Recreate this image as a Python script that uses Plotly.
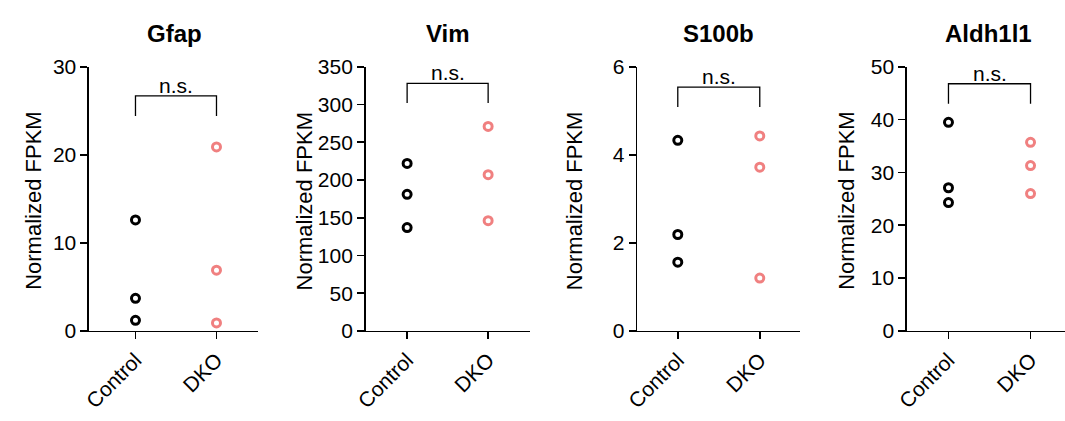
import plotly.graph_objects as go

W, H = 1065, 421

genes = ["Gfap", "Vim", "S100b", "Aldh1l1"]
groups = ["Control", "DKO"]

gfap_control = [12.6, 3.7, 1.2]
gfap_dko = [20.9, 6.9, 0.9]
vim_control = [222, 181, 137]
vim_dko = [271, 207, 146]
s100b_control = [4.33, 2.19, 1.56]
s100b_dko = [4.43, 3.72, 1.2]
aldh_control = [39.5, 27.1, 24.3]
aldh_dko = [35.7, 31.3, 26.0]

control_values = [gfap_control, vim_control, s100b_control, aldh_control]
dko_values = [gfap_dko, vim_dko, s100b_dko, aldh_dko]

y_max = [30, 350, 6, 50]
y_dtick = [10, 50, 2, 10]
bracket_top = [26.7, 328, 5.54, 46.8]
bracket_leg = [24.4, 302, 5.09, 43.0]
sig_labels = ["n.s.", "n.s.", "n.s.", "n.s."]

# layout (pixels)
x_dom_px = [(77, 248), (357, 523), (632, 797), (905, 1065)]
x_ranges = [(-0.573, 1.512), (-0.512, 1.512), (-0.494, 1.494), (-0.506, 1.42)]
title_px = [163, 440, 714, 988]
ytitle_px = [20, 295, 568, 843]
y_top_px, y_bot_px = 58, 337.3

FONT = "Arial, 'Liberation Sans', Helvetica, sans-serif"
BLACK = "#000000"
PINK = "#F08080"

fig = go.Figure()
layout = dict(
    width=W, height=H,
    margin=dict(l=0, r=0, t=0, b=0, pad=0),
    paper_bgcolor="white", plot_bgcolor="white",
    showlegend=False,
    font=dict(family=FONT, color="black"),
)
annotations = []
shapes = []
ydom = [1 - y_bot_px / H, 1 - y_top_px / H]

for i in range(4):
    xa = "x" if i == 0 else f"x{i+1}"
    ya = "y" if i == 0 else f"y{i+1}"
    xkey = "xaxis" if i == 0 else f"xaxis{i+1}"
    ykey = "yaxis" if i == 0 else f"yaxis{i+1}"
    fig.add_trace(go.Scatter(
        x=[groups[0]] * len(control_values[i]), y=control_values[i],
        mode="markers", xaxis=xa, yaxis=ya, cliponaxis=False, hoverinfo="skip",
        marker=dict(symbol="circle-open", size=8, color=BLACK, line=dict(width=3, color=BLACK)),
    ))
    fig.add_trace(go.Scatter(
        x=[groups[1]] * len(dko_values[i]), y=dko_values[i],
        mode="markers", xaxis=xa, yaxis=ya, cliponaxis=False, hoverinfo="skip",
        marker=dict(symbol="circle-open", size=8, color=PINK, line=dict(width=3, color=PINK)),
    ))
    d0, d1 = x_dom_px[i]
    layout[xkey] = dict(
        domain=[d0 / W, d1 / W], anchor=ya, type="category",
        categoryorder="array", categoryarray=groups,
        range=list(x_ranges[i]), showgrid=False, zeroline=False,
        showline=True, linecolor="black", linewidth=1.6,
        ticks="outside", ticklen=7, tickwidth=1.6, tickcolor="black",
        tickangle=-45, tickfont=dict(size=21, family=FONT, color="black"),
        fixedrange=True,
    )
    layout[ykey] = dict(
        domain=ydom, anchor=xa, range=[0, y_max[i]], dtick=y_dtick[i], tick0=0,
        showgrid=False, zeroline=False,
        showline=True, linecolor="black", linewidth=1.6,
        ticks="outside", ticklen=7, tickwidth=1.6, tickcolor="black",
        tickfont=dict(size=21, family=FONT, color="black"),
        fixedrange=True,
    )
    annotations.append(dict(
        text=f"<b>{genes[i]}</b>", xref="paper", yref="paper",
        x=title_px[i] / W, y=1 - 23 / H, xanchor="center", yanchor="middle",
        showarrow=False, font=dict(size=24, family=FONT, color="black"),
    ))
    annotations.append(dict(
        text="Normalized FPKM", xref="paper", yref="paper",
        x=ytitle_px[i] / W, y=1 - 200 / H, xanchor="center", yanchor="middle",
        textangle=-90, showarrow=False,
        font=dict(size=22, family=FONT, color="black"),
    ))
    shapes.append(dict(
        type="path", xref=xa, yref=ya,
        path=f"M 0 {bracket_leg[i]} L 0 {bracket_top[i]} L 1 {bracket_top[i]} L 1 {bracket_leg[i]}",
        line=dict(color="black", width=1.3),
    ))
    annotations.append(dict(
        text=sig_labels[i], xref=xa, yref=ya, x=0.5, y=bracket_top[i],
        xanchor="center", yanchor="bottom", showarrow=False, yshift=-3,
        font=dict(size=21, family=FONT, color="black"),
    ))

layout["annotations"] = annotations
layout["shapes"] = shapes
fig.update_layout(**layout)
fig.write_html("out.html", config={"responsive": False, "displayModeBar": False, "staticPlot": True},
               post_script="document.body.style.margin='0';document.body.style.padding='0';document.body.style.overflow='hidden';")
